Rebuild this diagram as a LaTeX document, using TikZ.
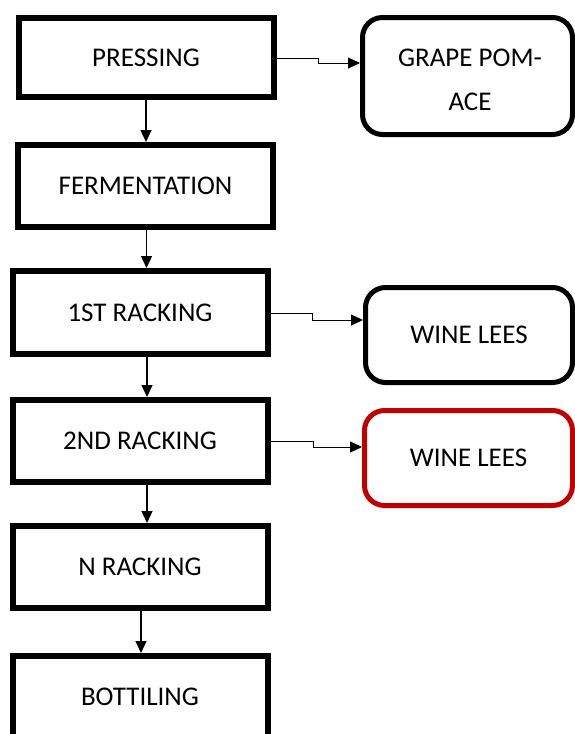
\documentclass[tikz,border=0pt]{standalone}
\usepackage{fontspec}
\setmainfont{Carlito}
\usetikzlibrary{arrows.meta,calc}
\definecolor{boxred}{HTML}{C00000}
\tikzset{
  stepbox/.style={draw=black, line width=6pt, minimum width=255pt, inner sep=0pt,
    font=\fontsize{27}{32}\selectfont},
  outbox/.style={draw=black, line width=5pt, rounded corners=20pt, inner sep=0pt, align=center,
    font=\fontsize{27}{44}\selectfont},
  arr/.style={line width=1.3pt, -{Triangle[length=12pt,width=11pt]}},
  side/.style={line width=0.9pt, -{Triangle[length=12pt,width=11pt]}}
}
\begin{document}
\begin{tikzpicture}[x=1pt,y=1pt]
\useasboundingbox (0,0) rectangle (575,-734);
\begin{scope}
\clip (0,0) rectangle (575,-734);
\node[stepbox, minimum height=79pt] (press) at (146,-57.5) {PRESSING};
\node[stepbox, minimum height=82pt] (ferm) at (145.5,-186) {FERMENTATION};
\node[stepbox, minimum height=83pt] (r1) at (140,-312.5) {1ST RACKING};
\node[stepbox, minimum height=82pt] (r2) at (140,-441) {2ND RACKING};
\node[stepbox, minimum height=82pt] (rn) at (140,-567) {N RACKING};
\node[stepbox, minimum height=82pt] (bott) at (140,-697) {BOTTILING};

\node[outbox, minimum width=210pt, minimum height=117pt] (pom) at (467.5,-76) {};
\node[font=\fontsize{27}{44}\selectfont, align=center, inner sep=0pt] (pomtext) at (470,-80) {GRAPE POM-\\ACE};
\node[outbox, minimum width=207pt, minimum height=95pt] (lees1) at (469,-335) {WINE LEES};
\node[outbox, draw=boxred, minimum width=208pt, minimum height=95pt] (lees2) at (468.5,-458) {WINE LEES};

\draw[arr] (press.south) -- (press.south |- ferm.north);
\draw[arr] ([xshift=1pt]ferm.south) -- ([xshift=1pt]ferm.south |- r1.north);
\draw[arr] ([xshift=7pt]r1.south) -- ([xshift=7pt]r2.north);
\draw[arr] ([xshift=7pt]r2.south) -- ([xshift=7pt]rn.north);
\draw[arr] ([xshift=1pt]rn.south) -- ([xshift=1pt]bott.north);

\coordinate (p1) at (318,-58);
\coordinate (p2) at (318,-63);
\draw[side] (press.east |- p1) -- (p1) -- (p2) -- (pom.west |- p2);
\coordinate (q1) at (312,-313);
\coordinate (q2) at (312,-320);
\draw[side] (r1.east |- q1) -- (q1) -- (q2) -- (lees1.west |- q2);
\coordinate (s1) at (313,-441);
\coordinate (s2) at (313,-447);
\draw[side] (r2.east |- s1) -- (s1) -- (s2) -- (lees2.west |- s2);
\end{scope}
\end{tikzpicture}
\end{document}
